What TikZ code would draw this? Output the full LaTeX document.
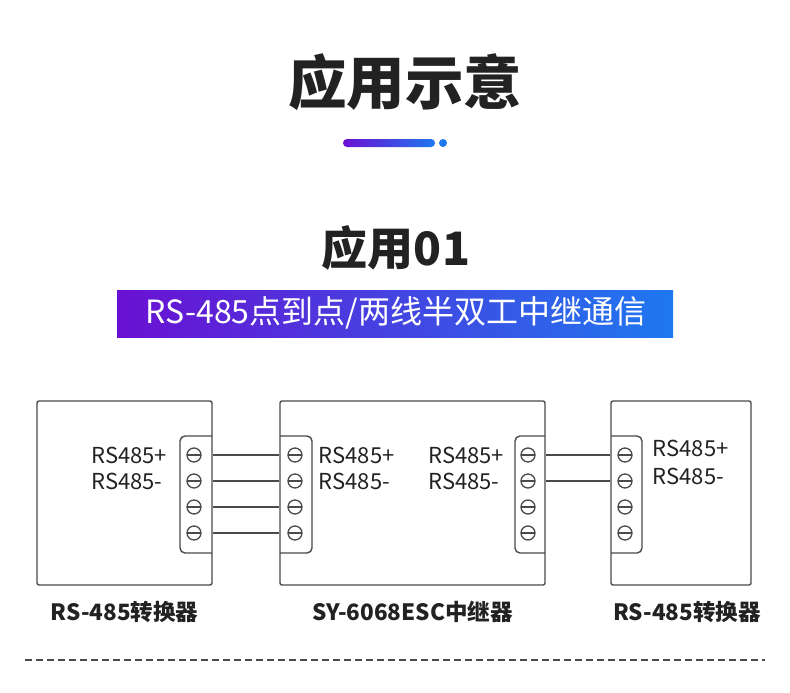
\documentclass[tikz,border=0pt]{standalone}
\usepackage{fontspec}
\setmainfont{Noto Sans CJK SC}
\usetikzlibrary{positioning}

\definecolor{barpurple}{HTML}{6A10D2}
\definecolor{barblue}{HTML}{1E78F0}
\definecolor{wiregray}{HTML}{4A4A4A}
\definecolor{textdark}{HTML}{222222}

\tikzset{
    box/.style={draw=wiregray, line width=1.4pt, rounded corners=2pt, inner sep=0pt},
    screw/.style={circle, draw=wiregray, line width=1.3pt, minimum size=14pt, inner sep=0pt,
        path picture={\draw[wiregray, line width=1.3pt] (path picture bounding box.west) -- (path picture bounding box.east);}},
    lbl/.style={inner sep=0pt, text=textdark, font=\fontsize{22}{24}\selectfont},
    caption/.style={inner sep=0pt, text=textdark, font=\fontsize{22.5}{25}\selectfont\bfseries}
}

\begin{document}
\begin{tikzpicture}[x=1pt,y=-1pt]

\fill[white] (0,0) rectangle (790,693);
\useasboundingbox (0,0) rectangle (790,693);

% titles
\node[text=textdark, font=\fontsize{58.5}{62}\selectfont\bfseries] (title) at (405,82) {应用示意};
\shade[left color=barpurple, right color=barblue, rounded corners=4pt] (343,139) rectangle (435,147);
\fill[barblue] (443,143) circle (4);

\node[text=textdark, font=\fontsize{46}{50}\selectfont\bfseries] (sub) at (396,248) {应用01};
\shade[left color=barpurple, right color=barblue] (117,290) rectangle (673,337);
\node[text=white, font=\fontsize{32}{35}\selectfont] (banner) at (396,313) {RS-485点到点/两线半双工中继通信};

% boxes
\node[box, minimum width=175pt, minimum height=184pt] (conv1) at (124.5,493) {};
\node[box, minimum width=265pt, minimum height=184pt] (rep) at (412.5,493) {};
\node[box, minimum width=140pt, minimum height=184pt] (conv2) at (681,493) {};

% terminal blocks
\draw[wiregray, line width=1.4pt, rounded corners=5pt] (212,436) -- (180,436) -- (180,553) -- (212,553);
\draw[wiregray, line width=1.4pt, rounded corners=5pt] (280,436) -- (312,436) -- (312,553) -- (280,553);
\draw[wiregray, line width=1.4pt, rounded corners=5pt] (545,436) -- (515,436) -- (515,553) -- (545,553);
\draw[wiregray, line width=1.4pt, rounded corners=5pt] (611,436) -- (642,436) -- (642,553) -- (611,553);

\foreach \x/\n in {194/a,295/b,528/c,625/d}
{
    \foreach \y [count=\i] in {455,481,507,533}
        \node[screw] (\n\i) at (\x,\y) {};
}

% wires
\foreach \i in {1,...,4}
    \draw[wiregray, line width=1.4pt] (a\i -| conv1.east) -- (b\i -| rep.west);
\foreach \i in {1,2}
    \draw[wiregray, line width=1.4pt] (c\i -| rep.east) -- (d\i -| conv2.west);

% labels
\node[lbl, left=19pt of a1] (la1) {RS485+};
\node[lbl, anchor=west] (la2) at (la1.west |- a2) {RS485-};
\node[lbl, right=16pt of b1] (lb1) {RS485+};
\node[lbl, right=16pt of b2] (lb2) {RS485-};
\node[lbl, left=16pt of c1] (lc1) {RS485+};
\node[lbl, anchor=west] (lc2) at (lc1.west |- c2) {RS485-};
\node[lbl, right=20pt of d1, yshift=7pt] (ld1) {RS485+};
\node[lbl, right=20pt of d2, yshift=5pt] (ld2) {RS485-};

\node[caption, below=15pt of conv1] (cap1) {RS-485转换器};
\node[caption, below=15pt of rep] (cap2) {SY-6068ESC中继器};
\node[caption, below=15pt of conv2, xshift=6pt] (cap3) {RS-485转换器};

% divider
\coordinate (dl) at (25,660);
\coordinate (dr) at (765,660);
\draw[wiregray, line width=1.3pt, dash pattern=on 7pt off 4pt] (dl) -- (dr);

\end{tikzpicture}
\end{document}
